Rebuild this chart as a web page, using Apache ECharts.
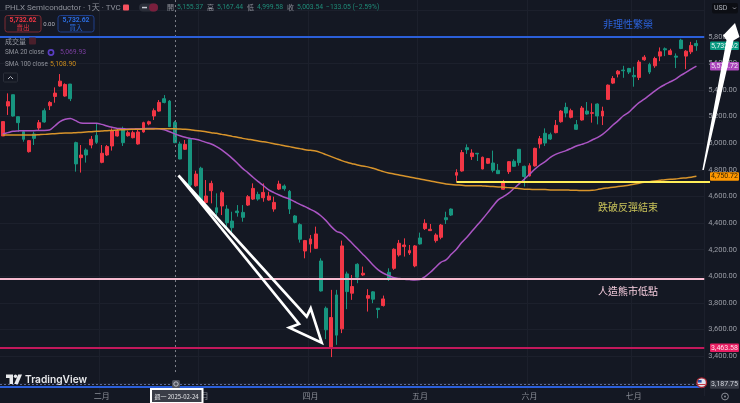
<!DOCTYPE html>
<html>
<head>
<meta charset="utf-8">
<script src="https://cdn.jsdelivr.net/npm/echarts@6/dist/echarts.min.js"></script>
<style>
html, body { margin: 0; padding: 0; background: #141823; }
#main { width: 740px; height: 403px; }
</style>
</head>
<body>
<div id="main"></div>
<script>
var dates = [
  '01-03','01-06','01-07','01-08','01-10','01-13','01-14','01-15','01-16','01-17',
  '01-21','01-22','01-23','01-24','01-27','01-28','01-29','01-30','01-31',
  '02-03','02-04','02-05','02-06','02-07','02-10','02-11','02-12','02-13','02-14',
  '02-18','02-19','02-20','02-21','02-24','02-25','02-26','02-27','02-28',
  '03-03','03-04','03-05','03-06','03-07','03-10','03-11','03-12','03-13','03-14',
  '03-17','03-18','03-19','03-20','03-21','03-24','03-25','03-26','03-27','03-28','03-31',
  '04-01','04-02','04-03','04-04','04-07','04-08','04-09','04-10','04-11',
  '04-14','04-15','04-16','04-17','04-21','04-22','04-23','04-24','04-25','04-28','04-29','04-30',
  '05-01','05-02','05-05','05-06','05-07','05-08','05-09','05-12','05-13','05-14','05-15','05-16',
  '05-19','05-20','05-21','05-22','05-23','05-27','05-28','05-29','05-30',
  '06-02','06-03','06-04','06-05','06-06','06-09','06-10','06-11','06-12','06-13',
  '06-16','06-17','06-18','06-20','06-23','06-24','06-25','06-26','06-27','06-30',
  '07-01','07-02','07-03','07-07','07-08','07-09','07-10','07-11',
  '07-14','07-15','07-16','07-17','07-18','07-21'
];
var monthStarts = { '02-03': '二月', '03-03': '三月', '04-01': '四月', '05-01': '五月', '06-02': '六月', '07-01': '七月' };

// open, close, low, high
var ohlc = [
  [5054,5162,5054,5162],[5279,5312,5212,5374],[5364,5204,5199,5364],[5199,5154,5086,5199],[5086,5029,5011,5099],
  [4936,5019,4929,5024],[5069,5036,4986,5086],[5114,5154,5099,5174],[5244,5159,5154,5261],[5281,5306,5249,5316],
  [5351,5376,5304,5419],[5429,5466,5424,5519],[5354,5441,5349,5449],[5444,5334,5316,5444],[5004,4844,4786,5011],
  [4891,4911,4779,4986],[4949,4911,4854,4961],[4986,5029,4961,5054],[5059,5006,4994,5149],[4856,4924,4849,4986],
  [4911,4974,4904,4986],[4979,5094,4944,5111],[5054,5094,5049,5111],[5111,5004,4979,5124],[5056,5079,5049,5094],
  [5041,5079,5036,5094],[4994,5084,4989,5099],[5084,5154,5079,5161],[5144,5161,5134,5169],[5204,5244,5174,5261],
  [5241,5306,5236,5324],[5334,5306,5299,5361],[5316,5124,5124,5324],[5155,5004,5000,5167],[4994,4881,4879,5011],
  [4954,4991,4949,5024],[5029,4686,4674,5034],[4680,4768,4673,4793],[4812,4560,4548,4823],[4555,4603,4548,4723],
  [4643,4698,4548,4718],[4515,4480,4448,4623],[4528,4628,4460,4643],[4505,4403,4360,4535],[4415,4365,4328,4485],
  [4490,4478,4448,4535],[4480,4443,4410,4535],[4535,4598,4528,4610],[4580,4660,4573,4698],[4615,4580,4568,4635],
  [4590,4630,4560,4698],[4573,4603,4568,4635],[4505,4555,4485,4598],[4655,4693,4648,4718],[4678,4658,4643,4690],
  [4638,4505,4468,4648],[4453,4405,4398,4460],[4388,4278,4253,4398],[4190,4268,4135,4273],[4243,4280,4178,4310],
  [4210,4318,4205,4373],[4115,3890,3885,4135],[3760,3598,3528,3773],[3468,3690,3393,3898],[3860,3558,3485,3898],
  [3605,4228,3573,4268],[4018,3885,3753,4035],[3873,3923,3823,4010],[4090,3993,3948,4098],[4010,4023,4003,4073],
  [3835,3855,3735,3903],[3883,3828,3798,3888],[3760,3750,3685,3760],[3780,3830,3773,3855],[4030,3980,3965,4060],
  [4060,4203,4048,4210],[4160,4248,4148,4273],[4223,4235,4148,4285],[4175,4193,4160,4235],[4078,4228,4068,4235],
  [4288,4243,4238,4328],[4358,4398,4348,4428],[4343,4353,4340,4393],[4268,4310,4253,4323],[4293,4385,4278,4393],
  [4440,4425,4393,4485],[4505,4460,4453,4510],[4759,4779,4711,4804],[4791,4929,4786,4949],[4966,4951,4919,4991],
  [4899,4926,4874,4954],[4924,4919,4866,4924],[4806,4894,4804,4899],[4849,4884,4844,4889],[4851,4796,4781,4944],
  [4796,4771,4769,4844],[4654,4704,4649,4724],[4786,4861,4769,4866],[4864,4826,4824,4879],[4954,4854,4831,4956],
  [4826,4749,4674,4831],[4754,4831,4749,4849],[4829,4961,4824,4966],[4994,5034,4961,5054],[5074,5001,4979,5111],
  [5064,5031,5024,5079],[5079,5134,5074,5174],[5161,5241,5154,5249],[5269,5226,5194,5304],[5194,5244,5186,5259],
  [5139,5104,5099,5174],[5174,5264,5169,5279],[5241,5219,5214,5309],[5224,5229,5154,5299],[5294,5204,5141,5299],
  [5204,5241,5136,5274],[5329,5436,5324,5441],[5451,5486,5444,5504],[5519,5541,5494,5549],[5549,5544,5491,5581],
  [5561,5534,5519,5566],[5509,5499,5424,5574],[5494,5609,5474,5624],[5626,5646,5619,5661],[5591,5534,5519,5604],
  [5581,5636,5566,5649],[5654,5686,5616,5719],[5709,5701,5654,5719],[5666,5694,5661,5709],[5654,5646,5564,5674],
  [5774,5711,5706,5784],[5654,5691,5556,5699],[5686,5734,5669,5761],[5749,5732,5694,5774]
];

var sma20 = [
  5069,5079,5089,5092,5094,5094,5094,5096,5096,5099,5129,5161,5179,5186,5169,5151,5149,5149,5149,5141,
  5129,5119,5111,5109,5106,5106,5109,5109,5111,5111,5109,5101,5086,5070,5056,5044,5036,5029,5019,5006,
  4994,4974,4949,4919,4886,4849,4811,4779,4744,4711,4681,4649,4629,4611,4594,4580,4560,4540,4523,4503,
  4483,4455,4418,4373,4338,4323,4288,4248,4208,4168,4128,4085,4048,4023,4005,3990,3983,3978,3975,3973,
  3975,3998,4030,4068,4105,4123,4165,4203,4253,4293,4340,4385,4430,4478,4528,4574,4599,4624,4659,4694,
  4729,4766,4804,4836,4861,4894,4916,4931,4944,4961,4979,4991,5004,5024,5041,5066,5099,5136,5169,5206,
  5231,5269,5304,5331,5361,5391,5419,5441,5461,5481,5509,5531,5556,5579
];

var sma100 = [
  5062,5062,5062,5062,5062,5062,5062,5064,5066,5069,5071,5074,5076,5076,5079,5081,5084,5086,5089,5091,
  5094,5096,5099,5101,5103,5104,5105,5106,5106,5107,5108,5108,5109,5109,5106,5104,5101,5096,5091,5086,
  5079,5074,5066,5059,5051,5044,5036,5029,5024,5016,5011,5004,4996,4989,4981,4974,4966,4959,4951,4946,
  4941,4929,4914,4899,4884,4869,4856,4846,4836,4829,4822,4811,4799,4786,4776,4769,4761,4754,4746,4739,
  4731,4724,4716,4709,4701,4694,4689,4686,4684,4681,4681,4681,4679,4676,4674,4671,4669,4666,4664,4659,
  4654,4654,4651,4651,4651,4649,4649,4649,4649,4646,4646,4644,4644,4646,4651,4659,4664,4669,4674,4679,
  4684,4691,4699,4706,4711,4716,4721,4726,4729,4731,4736,4739,4744,4751
];

var irrationalTop = 5797;
var breakLevel = 4709;
var breakStart = '05-12';
var fakeBearLow = 3985;
var lowLevel = 3463;
var bottomBlue = 3170;
var lastVisible = 3187.75;
var crossDate = '02-24';

var priceTags = [
  { value: 5732.62, text: '5,732.62', bg: '#089981', fg: '#e8f5f2' },
  { value: 5578.72, text: '5,578.72', bg: '#ab47bc', fg: '#f3e5f5' },
  { value: 4750.72, text: '4,750.72', bg: '#ff9800', fg: '#3a2500' },
  { value: 3463.58, text: '3,463.58', bg: '#e91e63', fg: '#fde4ec' },
  { value: 3187.75, text: '3,187.75', bg: '#363a45', fg: '#d1d4dc' }
];

var FONT = 'Roboto, "Noto Sans CJK TC", sans-serif';
var CJK = '"Noto Sans CJK TC", sans-serif';
var myChart = echarts.init(document.getElementById('main'), null, { renderer: 'canvas' });

var levelLine = function (value, color, width, type) {
  return { yAxis: value, lineStyle: { color: color, width: width, type: type || 'solid', opacity: 1 } };
};

myChart.setOption({
  animation: false,
  backgroundColor: '#141823',
  grid: { left: -0.6, top: 0, width: 710.6, height: 396.1 },
  xAxis: {
    type: 'category',
    data: dates,
    offset: -8,
    z: 3,
    axisLine: { show: false },
    axisTick: { show: false },
    axisLabel: {
      color: '#8a8d96',
      fontSize: 8,
      fontFamily: CJK,
      margin: 4,
      interval: function (i, v) { return monthStarts[v] != null; },
      formatter: function (v) { return monthStarts[v] || ''; }
    },
    splitLine: {
      show: true,
      interval: function (i, v) { return monthStarts[v] != null; },
      lineStyle: { color: '#1c202c', width: 1 }
    }
  },
  yAxis: {
    type: 'value',
    position: 'right',
    min: 3100,
    max: 6075.4,
    interval: 100,
    axisLine: { show: false },
    axisTick: { show: false },
    axisLabel: {
      color: '#9a9da6',
      fontSize: 7.5,
      fontFamily: FONT,
      margin: 4,
      formatter: function (v) {
        if (v < 3400 || v > 5800 || v % 200 !== 0) return '';
        return v.toLocaleString('en-US', { minimumFractionDigits: 2 });
      }
    },
    // every second tick only, the price lines sit 200 apart
    splitLine: { lineStyle: { color: ['transparent', '#1c202c'], width: 1 } }
  },
  series: [
    {
      type: 'candlestick',
      data: ohlc,
      barWidth: 3.4,
      z: 2,
      itemStyle: {
        color: '#f23645',
        color0: '#17957f',
        borderColor: '#f23645',
        borderColor0: '#17957f',
        borderWidth: 1
      },
      markLine: {
        silent: true,
        symbol: 'none',
        label: { show: false },
        animation: false,
        data: [
          [{ coord: [crossDate, 6075] }, { coord: [crossDate, 3270], lineStyle: { color: '#7d808a', width: 1, type: [2, 3] } }],
          levelLine(lastVisible, '#5a6a9a', 1, [2, 2]),
          levelLine(bottomBlue, '#2b5fd9', 2),
          levelLine(irrationalTop, '#2b5fd9', 2),
          levelLine(fakeBearLow, '#f8bbd0', 2),
          levelLine(lowLevel, '#c2185b', 2),
          [{ coord: [breakStart, breakLevel] }, { coord: ['07-21', breakLevel], x: 710, lineStyle: { color: '#ffee58', width: 2, type: 'solid' } }]
        ]
      }
    },
    {
      type: 'line',
      data: sma20,
      z: 4,
      showSymbol: false,
      smooth: 0.3,
      lineStyle: { color: '#ab55c4', width: 1.5 }
    },
    {
      type: 'line',
      data: sma100,
      z: 4,
      showSymbol: false,
      smooth: 0.3,
      lineStyle: { color: '#d8942b', width: 1.5 }
    }
  ]
});

// overlay: header, drawn annotations and price tags
function tx(x, y, text, fill, size, opts) {
  opts = opts || {};
  return {
    type: 'text', z: 20, silent: true, x: x, y: y,
    style: {
      text: text, fill: fill,
      fontSize: size, fontFamily: opts.family || FONT, fontWeight: opts.weight || 'normal',
      align: opts.align || 'left', verticalAlign: 'middle'
    }
  };
}
function box(x, y, w, h, fill, stroke, r, lw, z) {
  return {
    type: 'rect', z: z || 19, silent: true,
    shape: { x: x, y: y, width: w, height: h, r: r || 0 },
    style: { fill: fill, stroke: stroke || null, lineWidth: lw || 1 }
  };
}

var ohlcGreen = '#1f8a77';
var overlay = [
  box(0, 388, 740, 15, '#141823', null, 0, 1, 1),

  // title row
  tx(5, 7.5, 'PHLX Semiconductor · 1天 · TVC', '#8f929b', 8, { family: FONT }),
  box(123, 4.5, 6, 6, '#f7525f', null, 1),
  box(139, 3.5, 19, 8, '#2a2e39', null, 4),
  box(149, 3.5, 9, 8, '#7a1f3d', null, 4),
  box(142, 6.8, 5, 1.5, '#c9ccd4', null, 0),
  tx(167, 7.5, '開', '#8f929b', 7, { family: CJK }),
  tx(177, 7.5, '5,155.37', ohlcGreen, 6.8),
  tx(207, 7.5, '高', '#8f929b', 7, { family: CJK }),
  tx(217, 7.5, '5,167.44', ohlcGreen, 6.8),
  tx(247, 7.5, '低', '#8f929b', 7, { family: CJK }),
  tx(257, 7.5, '4,999.58', ohlcGreen, 6.8),
  tx(287, 7.5, '收', '#8f929b', 7, { family: CJK }),
  tx(297, 7.5, '5,003.54', ohlcGreen, 6.8),
  tx(326, 7.5, '−133.05 (−2.59%)', ohlcGreen, 6.8),

  // buy / sell buttons
  box(5, 15.5, 36, 16.5, '#1a1a24', '#7c2b33', 2.5),
  tx(23, 20.5, '5,732.62', '#f23645', 6.8, { align: 'center', weight: 'bold' }),
  tx(23, 28, '賣出', '#f23645', 6.5, { align: 'center', family: CJK }),
  tx(49, 24, '0.00', '#b2b5be', 6, { align: 'center' }),
  box(58, 15.5, 36, 16.5, '#141a2c', '#1f3f8a', 2.5),
  tx(76, 20.5, '5,732.62', '#2b6de0', 6.8, { align: 'center', weight: 'bold' }),
  tx(76, 28, '買入', '#2b6de0', 6.5, { align: 'center', family: CJK }),

  // indicator legend
  tx(5, 41, '成交量', '#9598a1', 7, { family: CJK }),
  box(29, 37.5, 7, 7, '#4a1f2b', null, 1),
  tx(5, 52.5, 'SMA 20 close', '#8f929b', 6.4),
  { type: 'circle', z: 20, silent: true, shape: { cx: 51, cy: 52.5, r: 2.6 }, style: { fill: 'none', stroke: '#5b3fc4', lineWidth: 1.6 } },
  tx(60, 52.5, '5,069.93', '#7b3fa0', 6.8),
  tx(5, 64.5, 'SMA 100 close', '#8f929b', 6.4),
  tx(50, 64.5, '5,108.90', '#c98a1c', 6.8),
  box(3.5, 73, 14, 9, '#141823', '#2a2e39', 1),
  { type: 'polyline', z: 20, silent: true, shape: { points: [[8, 79], [10.5, 76.5], [13, 79]] }, style: { fill: 'none', stroke: '#b2b5be', lineWidth: 1 } },

  // USD selector
  box(712, 3, 26, 10.5, '#0c0e14', null, 2),
  tx(714, 8, 'USD', '#b2b5be', 7),
  { type: 'polyline', z: 20, silent: true, shape: { points: [[733, 7.5], [734.5, 9], [736, 7.5]] }, style: { fill: 'none', stroke: '#b2b5be', lineWidth: 0.8 } },

  // notes on the chart
  tx(628, 24, '非理性繁榮', '#2b62d9', 10, { family: CJK, align: 'center' }),
  tx(628, 207, '跌破反彈結束', '#c9c35a', 10, { family: CJK, align: 'center' }),
  tx(628, 291.5, '人造熊市低點', '#f8cfe0', 10, { family: CJK, align: 'center' }),

  // hand drawn arrows
  {
    type: 'polygon', z: 18, silent: true,
    shape: { points: [[178.5, 175.5], [306.7, 316.7], [310.7, 308.3], [321.7, 342.7], [289.3, 327.7], [299, 324]] },
    style: { fill: 'none', stroke: '#ffffff', lineWidth: 2.7, lineJoin: 'miter' }
  },
  {
    type: 'polygon', z: 21, silent: true,
    shape: { points: [[702.3, 170], [726.5, 40], [723, 35.5], [735, 23], [739.5, 37], [733.5, 40.5], [703.8, 170]] },
    style: { fill: '#ffffff' }
  },

  // crosshair date, bottom icons
  box(151, 389, 51.5, 14, '#3a3d47', '#ffffff', 0, 2),
  tx(176.5, 396.5, '週一 2025-02-24', '#e6e7ea', 6, { family: CJK, align: 'center' }),
  box(172, 380, 8, 8, '#50535e', null, 1.5),
  { type: 'circle', z: 20, silent: true, shape: { cx: 176, cy: 384, r: 2.2 }, style: { fill: 'none', stroke: '#c9ccd4', lineWidth: 0.9 } },
  { type: 'circle', z: 20, silent: true, shape: { cx: 725, cy: 396.5, r: 3.4 }, style: { fill: 'none', stroke: '#8a8d96', lineWidth: 1 } },
  { type: 'circle', z: 20, silent: true, shape: { cx: 725, cy: 396.5, r: 1 }, style: { fill: '#8a8d96' } },
  { type: 'circle', z: 20, silent: true, shape: { cx: 701.7, cy: 382.7, r: 4.8 }, style: { fill: '#dfe3ee', stroke: '#a8232f', lineWidth: 1.4 } },
  box(698, 380, 3.6, 2.6, '#2b4fa8', null, 0, 1, 21),
  box(698, 384, 7.4, 1, '#c8353f', null, 0, 1, 21),

  // TradingView mark
  { type: 'polygon', z: 20, silent: true, shape: { points: [[6, 374.5], [13, 374.5], [13, 384], [9.5, 384], [9.5, 378], [6, 378]] }, style: { fill: '#e8e9ec' } },
  { type: 'circle', z: 20, silent: true, shape: { cx: 15.5, cy: 376.3, r: 1.7 }, style: { fill: '#e8e9ec' } },
  { type: 'polygon', z: 20, silent: true, shape: { points: [[18.2, 374.5], [22, 374.5], [18, 384], [14.2, 384]] }, style: { fill: '#e8e9ec' } },
  tx(25, 379.5, 'TradingView', '#e8e9ec', 10.2, { family: 'Inter, Roboto, sans-serif', weight: 600 })
];

priceTags.forEach(function (tag) {
  var y = myChart.convertToPixel({ yAxisIndex: 0 }, tag.value);
  overlay.push(box(710, y - 4.2, 29, 8.6, tag.bg, null, 1, 1, 19));
  overlay.push(tx(724.5, y + 0.2, tag.text, tag.fg, 7, { align: 'center' }));
});

myChart.setOption({ graphic: { elements: overlay } });
</script>
</body>
</html>
